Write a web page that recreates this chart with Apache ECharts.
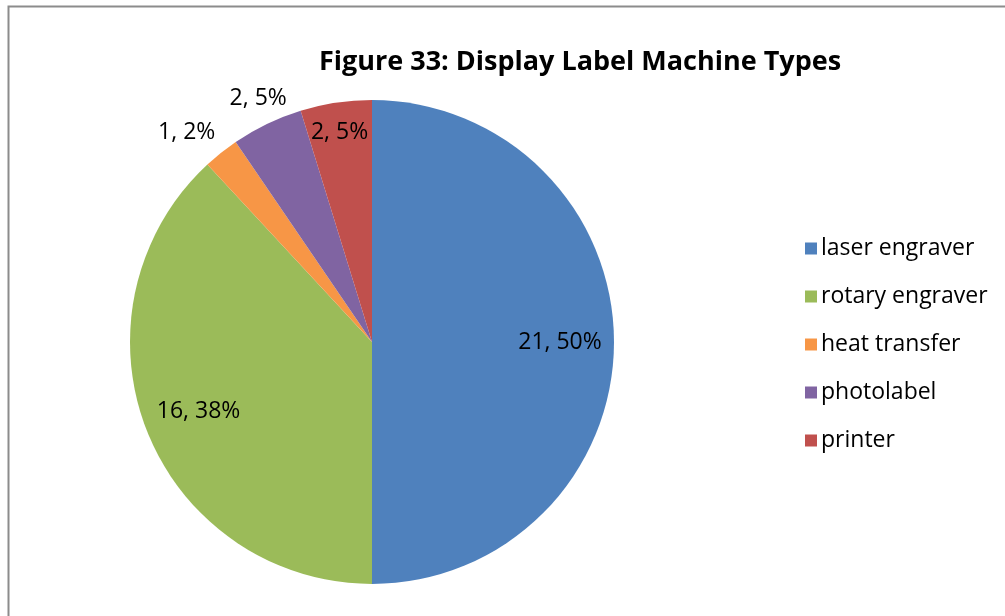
<!DOCTYPE html>
<html>
<head>
<meta charset="utf-8">
<script src="https://cdn.jsdelivr.net/npm/echarts@6/dist/echarts.min.js"></script>
<style>
  html, body { margin: 0; padding: 0; background: #fff; }
  #chart { width: 1005px; height: 616px; }
</style>
</head>
<body>
<div id="chart"></div>
<script>
// Machine types used for display labels (count of respondents)
const categories = ['laser engraver', 'rotary engraver', 'heat transfer', 'photolabel', 'printer'];
const counts = [21, 16, 1, 2, 2];
const colors = ['#4F81BD', '#9BBB59', '#F79646', '#8064A2', '#C0504D'];
// Nudges that move each slice label from the middle of its slice
const labelOffsets = [[64, 0], [-58, 24], [-108, -113], [-60, -132], [-14, -87]];

const FONT = '"Open Sans", Lato, sans-serif';

const chart = echarts.init(document.getElementById('chart'), null, { renderer: 'canvas' });

const data = categories.map((name, i) => ({
  name: name,
  value: counts[i],
  itemStyle: { color: colors[i] },
  label: { offset: labelOffsets[i] }
}));

chart.setOption({
  backgroundColor: '#ffffff',
  animation: false,
  title: {
    text: 'Figure 33: Display Label Machine Types',
    left: 575,
    textAlign: 'center',
    top: 44,
    textStyle: { fontFamily: FONT, fontWeight: 'bold', fontSize: 27, color: '#000' }
  },
  legend: {
    orient: 'vertical',
    left: 800,
    top: 232,
    itemWidth: 12,
    itemHeight: 12,
    itemGap: 25,
    icon: 'rect',
    data: categories,
    textStyle: { fontFamily: FONT, fontSize: 23, color: '#000', padding: [0, 0, 0, -1] }
  },
  graphic: [{
    type: 'rect',
    shape: { x: 8.5, y: 6.5, width: 1100, height: 700 },
    style: { fill: null, stroke: '#8c8c8c', lineWidth: 2 },
    silent: true
  }],
  series: [{
    type: 'pie',
    center: [372, 342],
    radius: [0, 242],
    startAngle: 90,
    clockwise: true,
    avoidLabelOverlap: false,
    itemStyle: { borderWidth: 0 },
    label: {
      show: true,
      position: 'inside',
      fontFamily: FONT,
      fontSize: 23,
      color: '#000',
      formatter: p => p.value + ', ' + Math.round(p.percent) + '%'
    },
    labelLine: { show: false },
    emphasis: { disabled: true },
    data: data
  }]
});
</script>
</body>
</html>
